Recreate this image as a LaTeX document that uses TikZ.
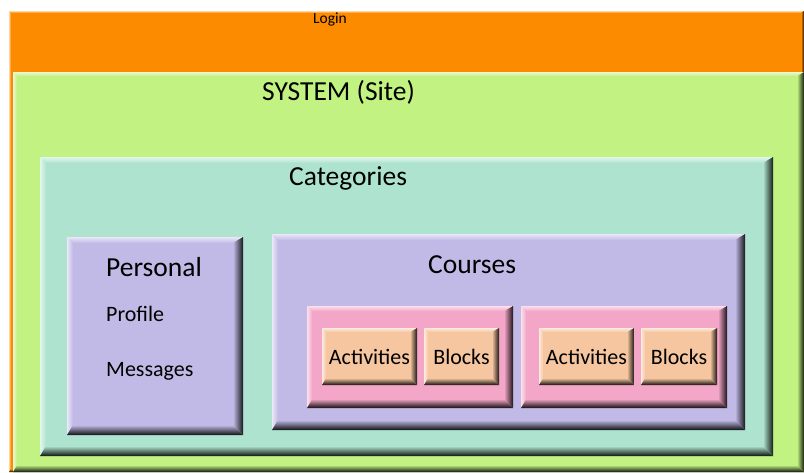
\documentclass[tikz,border=0pt]{standalone}
\usepackage{fontspec}
\setmainfont{Carlito}
\definecolor{loginc}{RGB}{253,139,0}
\definecolor{sysc}{RGB}{193,242,130}
\definecolor{catc}{RGB}{174,228,207}
\definecolor{lavc}{RGB}{194,186,230}
\definecolor{pinkc}{RGB}{243,166,199}
\definecolor{peachc}{RGB}{245,198,160}
% bevel: light top/left edge, dark bottom/right edge
\newcommand{\drawbevel}[2]{%
  \coordinate (bv_sw) at (path picture bounding box.south west);
  \coordinate (bv_se) at (path picture bounding box.south east);
  \coordinate (bv_nw) at (path picture bounding box.north west);
  \coordinate (bv_ne) at (path picture bounding box.north east);
  \shade[top color=#2!35!white, bottom color=#2] (bv_nw) -- (bv_ne) -- ([xshift=-#1, yshift=-0.6*#1]bv_ne) -- ([xshift=0.6*#1, yshift=-0.6*#1]bv_nw) -- cycle;
  \shade[left color=#2!35!white, right color=#2] (bv_nw) -- ([xshift=0.6*#1, yshift=-0.6*#1]bv_nw) -- ([xshift=0.6*#1, yshift=#1]bv_sw) -- (bv_sw) -- cycle;
  \shade[top color=#2, bottom color=#2!8!black] (bv_sw) -- (bv_se) -- ([xshift=-#1, yshift=#1]bv_se) -- ([xshift=0.6*#1, yshift=#1]bv_sw) -- cycle;
  \shade[left color=#2, right color=#2!12!black] (bv_se) -- (bv_ne) -- ([xshift=-#1, yshift=-0.6*#1]bv_ne) -- ([xshift=-#1, yshift=#1]bv_se) -- cycle;
}
\begin{document}
\begin{tikzpicture}[x=1pt, y=-1pt]
\tikzstyle{box}  = [rectangle, draw=none, inner sep=0pt]
\tikzstyle{big}  = [inner sep=0pt, anchor=base west, font=\fontsize{27.5}{32}\selectfont]
\tikzstyle{mid}  = [inner sep=0pt, anchor=base west, font=\fontsize{22}{26}\selectfont]
\useasboundingbox (0,0) rectangle (804,472);
\node[box, fill=loginc, minimum width=795pt, minimum height=461pt, path picture={\drawbevel{3pt}{loginc}}] at (406.5, 241.5) (0_login) {};
\node[inner sep=0pt, anchor=base west, font=\fontsize{15.5}{18}\selectfont] at (313, 23.5) (0_t) {Login};
\node[box, fill=sysc, minimum width=791pt, minimum height=400pt, path picture={\drawbevel{7pt}{sysc}}] at (408.5, 272) (1_sys) {};
\node[big] at (262, 100.7) (1_t) {SYSTEM (Site)};
\node[box, fill=catc, minimum width=733pt, minimum height=299pt, path picture={\drawbevel{10pt}{catc}}] at (406.5, 306.5) (2_cat) {};
\node[big] at (289, 185) (2_t) {Categories};
\node[box, fill=lavc, minimum width=176pt, minimum height=198pt, path picture={\drawbevel{10pt}{lavc}}] at (155, 336) (3_pers) {};
\node[big] at (106, 276) (3_t_0) {Personal};
\node[mid] at (106, 321.7) (3_t_1) {Profile};
\node[mid] at (106, 376) (3_t_2) {Messages};
\node[box, fill=lavc, minimum width=473pt, minimum height=196pt, path picture={\drawbevel{10pt}{lavc}}] at (508.5, 332) (3_crs) {};
\node[big] at (428, 273) (3_t_3) {Courses};
\node[box, fill=pinkc, minimum width=206pt, minimum height=102pt, path picture={\drawbevel{9pt}{pinkc}}] at (410, 357) (4_crs_0) {};
\node[box, fill=pinkc, minimum width=206pt, minimum height=102pt, path picture={\drawbevel{9pt}{pinkc}}] at (624, 357) (4_crs_1) {};
\node[box, fill=peachc, minimum width=95pt, minimum height=57pt, font=\fontsize{22}{26}\selectfont, path picture={\drawbevel{7pt}{peachc}}] at (369.5, 356.5) (5_act_0) {Activities};
\node[box, fill=peachc, minimum width=75pt, minimum height=57pt, font=\fontsize{22}{26}\selectfont, path picture={\drawbevel{7pt}{peachc}}] at (461.5, 356.5) (5_blk_0) {Blocks};
\node[box, fill=peachc, minimum width=95pt, minimum height=57pt, font=\fontsize{22}{26}\selectfont, path picture={\drawbevel{7pt}{peachc}}] at (586.5, 356.5) (5_act_1) {Activities};
\node[box, fill=peachc, minimum width=76pt, minimum height=57pt, font=\fontsize{22}{26}\selectfont, path picture={\drawbevel{7pt}{peachc}}] at (679, 356.5) (5_blk_1) {Blocks};
\end{tikzpicture}
\end{document}
